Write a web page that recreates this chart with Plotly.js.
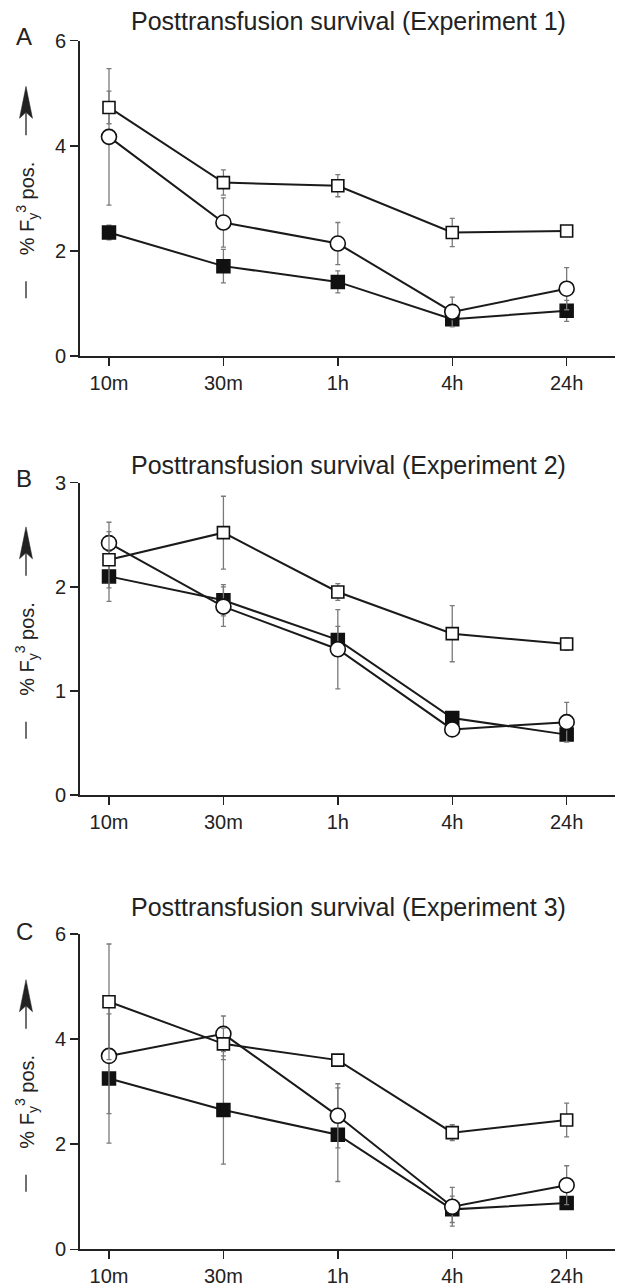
<!DOCTYPE html>
<html>
<head>
<meta charset="utf-8">
<script src="https://cdn.plot.ly/plotly-3.0.1.min.js"></script>
<style>html,body{margin:0;padding:0;background:#fff;}#chart{width:617px;height:1286px;}</style>
</head>
<body>
<div id="chart"></div>
<script>
// ---- data ----
const times = ['10m', '30m', '1h', '4h', '24h'];
const panelLetters = ['A', 'B', 'C'];
const panelTitles = ['Posttransfusion survival (Experiment 1)', 'Posttransfusion survival (Experiment 2)', 'Posttransfusion survival (Experiment 3)'];
const yTickVals = [[0, 2, 4, 6], [0, 1, 2, 3], [0, 2, 4, 6]];
const yMax = [6, 3, 6];

// Experiment 1
const a_filled = [2.35, 1.71, 1.41, 0.70, 0.86];
const a_filled_err = [0.14, 0.32, 0.21, 0.14, 0.20];
const a_circle = [4.17, 2.54, 2.14, 0.84, 1.28];
const a_circle_err = [1.30, 0.47, 0.40, 0.28, 0.40];
const a_open = [4.73, 3.30, 3.24, 2.35, 2.38];
const a_open_err = [0.31, 0.24, 0.21, 0.27, 0.05];
// Experiment 2
const b_filled = [2.10, 1.87, 1.49, 0.74, 0.58];
const b_filled_err = [0.24, 0.15, 0.13, 0.04, 0.07];
const b_circle = [2.42, 1.81, 1.40, 0.63, 0.70];
const b_circle_err = [0.20, 0.19, 0.38, 0.05, 0.19];
const b_open = [2.26, 2.52, 1.95, 1.55, 1.45];
const b_open_err = [0.27, 0.35, 0.08, 0.27, 0.06];
// Experiment 3
const c_filled = [3.25, 2.65, 2.18, 0.76, 0.88];
const c_filled_err = [1.23, 1.03, 0.89, 0.25, 0.05];
const c_circle = [3.68, 4.10, 2.54, 0.81, 1.22];
const c_circle_err = [1.10, 0.34, 0.61, 0.37, 0.37];
const c_open = [4.71, 3.91, 3.60, 2.22, 2.46];
const c_open_err = [1.10, 0.30, 0.05, 0.15, 0.32];

const series = [
  [[a_filled, a_filled_err], [a_circle, a_circle_err], [a_open, a_open_err]],
  [[b_filled, b_filled_err], [b_circle, b_circle_err], [b_open, b_open_err]],
  [[c_filled, c_filled_err], [c_circle, c_circle_err], [c_open, c_open_err]]
];

// ---- layout geometry (pixels) ----
const W = 617, H = 1286;
const px = x => x / W, py = y => 1 - y / H;
const FONT = 'Liberation Sans, Arial, Helvetica, sans-serif';
const INK = '#222';
const geo = [
  {top: 40.7, bottom: 356, title: 21, letter: 36},
  {top: 482.7, bottom: 795, title: 465, letter: 478},
  {top: 934, bottom: 1249.3, title: 907, letter: 931}
];
const markerStyles = [
  {symbol: 'square', size: 13, color: '#111', line: {color: '#111', width: 1.5}},
  {symbol: 'circle', size: 15, color: '#fff', line: {color: '#111', width: 1.6}},
  {symbol: 'square', size: 12, color: '#fff', line: {color: '#111', width: 1.6}}
];

const traces = [];
const layout = {
  width: W, height: H,
  margin: {l: 0, r: 0, t: 0, b: 0},
  paper_bgcolor: '#fff', plot_bgcolor: '#fff',
  showlegend: false,
  font: {family: FONT, color: INK},
  annotations: [], shapes: []
};

series.forEach((ser, p) => {
  const sfx = p === 0 ? '' : String(p + 1);
  ser.forEach((s, k) => {
    traces.push({
      type: 'scatter', mode: 'lines+markers',
      x: times, y: s[0],
      xaxis: 'x' + sfx, yaxis: 'y' + sfx,
      line: {color: '#1a1a1a', width: 2},
      marker: markerStyles[k],
      error_y: {type: 'data', array: s[1], visible: true, color: '#7a7a7a', thickness: 1.3, width: 2.5},
      hoverinfo: 'skip', cliponaxis: false
    });
  });
  const g = geo[p];
  const mid = (g.top + g.bottom) / 2;
  layout['xaxis' + sfx] = {
    type: 'category', anchor: 'y' + sfx,
    domain: [px(80), px(615)], range: [-0.2535, 4.4225],
    showline: true, linecolor: INK, linewidth: 2,
    ticks: 'outside', ticklen: 8, tickwidth: 1.5, tickcolor: INK,
    showgrid: false, zeroline: false,
    tickfont: {family: FONT, size: 20, color: INK}, fixedrange: true
  };
  layout['yaxis' + sfx] = {
    anchor: 'x' + sfx,
    domain: [py(g.bottom), py(g.top)], range: [0, yMax[p]],
    tickvals: yTickVals[p], ticktext: yTickVals[p].map(String),
    showline: true, linecolor: INK, linewidth: 2,
    ticks: 'outside', ticklen: 8, tickwidth: 1.5, tickcolor: INK,
    showgrid: false, zeroline: false,
    tickfont: {family: FONT, size: 20, color: INK}, fixedrange: true
  };
  // panel title
  layout.annotations.push({
    xref: 'paper', yref: 'paper', x: px(348.5), y: py(g.title),
    xanchor: 'center', yanchor: 'middle', showarrow: false,
    text: panelTitles[p], font: {family: FONT, size: 25, color: INK}
  });
  // panel letter
  layout.annotations.push({
    xref: 'paper', yref: 'paper', x: px(24), y: py(g.letter),
    xanchor: 'center', yanchor: 'middle', showarrow: false,
    text: panelLetters[p], font: {family: FONT, size: 24, color: INK}
  });
  // y label text
  layout.annotations.push({
    xref: 'paper', yref: 'paper', x: px(27), y: py(mid + 10),
    xanchor: 'center', yanchor: 'middle', showarrow: false, textangle: -90,
    text: '% F<sub>y</sub><sup>3</sup> pos.', font: {family: FONT, size: 20, color: INK}
  });
  // y label arrow: head
  const ax = 26, tip = mid - 112, notch = mid - 86, barb = mid - 80, tail = mid - 63;
  layout.shapes.push({
    type: 'path', xref: 'paper', yref: 'paper',
    path: 'M ' + px(ax) + ',' + py(tip) + ' L ' + px(ax - 6.5) + ',' + py(barb) +
          ' L ' + px(ax) + ',' + py(notch) + ' L ' + px(ax + 6.5) + ',' + py(barb) + ' Z',
    fillcolor: INK, line: {color: INK, width: 0.5}
  });
  // arrow shaft
  layout.shapes.push({
    type: 'line', xref: 'paper', yref: 'paper',
    x0: px(ax), x1: px(ax), y0: py(notch), y1: py(tail),
    line: {color: INK, width: 1.3}
  });
  // y label dash
  layout.shapes.push({
    type: 'line', xref: 'paper', yref: 'paper',
    x0: px(ax), x1: px(ax), y0: py(mid + 83), y1: py(mid + 100),
    line: {color: INK, width: 1.3}
  });
});

Plotly.newPlot('chart', traces, layout, {staticPlot: true, displayModeBar: false});
</script>
</body>
</html>
